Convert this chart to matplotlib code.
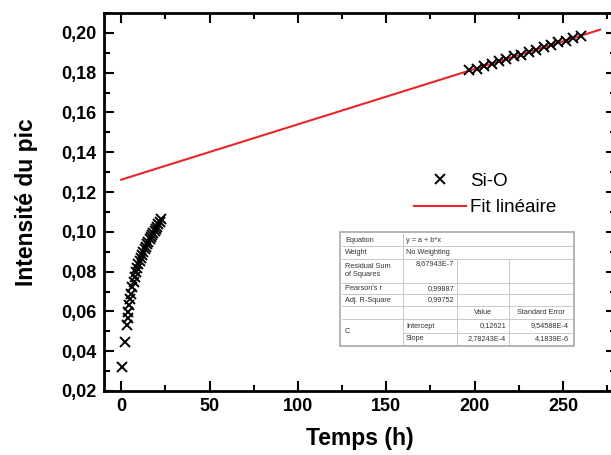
import matplotlib
matplotlib.use("Agg")
import matplotlib.pyplot as plt
import numpy as np
from matplotlib.ticker import MultipleLocator, FuncFormatter
from matplotlib.lines import Line2D
from matplotlib.patches import Rectangle

plt.rcParams['font.family'] = ['Liberation Sans', 'DejaVu Sans']

# ---- data ----
t_early = [0.6, 1.9, 3.4, 3.6, 4.0, 4.4, 5.0, 5.5, 6.2, 7.0, 7.7,
           8.4, 9.1, 9.8, 10.5, 11.2, 11.9, 12.6, 13.3, 14.0, 14.7, 15.4,
           16.1, 16.8, 17.5, 18.2, 18.9, 19.6, 20.3, 21.0, 21.7, 22.4]
i_early = [0.0322, 0.0448, 0.0532, 0.0565, 0.0598, 0.0632, 0.0661, 0.0690, 0.0721, 0.0749, 0.0774,
           0.0796, 0.0817, 0.0836, 0.0853, 0.0869, 0.0884, 0.0898, 0.0912, 0.0925, 0.0938, 0.0950,
           0.0962, 0.0973, 0.0984, 0.0995, 0.1005, 0.1015, 0.1025, 0.1037, 0.1050, 0.1065]
t_late = [197.0, 201.2, 205.4, 209.6, 213.8, 218.0, 222.2, 226.4,
          230.6, 234.8, 239.0, 243.2, 247.4, 251.6, 255.8, 260.0]
i_late = [0.1812, 0.1820, 0.1835, 0.1844, 0.1858, 0.1867, 0.1882, 0.1890,
          0.1905, 0.1914, 0.1928, 0.1937, 0.1952, 0.1961, 0.1975, 0.1984]
fit_intercept = 0.12621
fit_slope = 2.78243e-4
fit_range = [0, 271]

x_ticks = [0, 50, 100, 150, 200, 250]
y_ticks = [0.02, 0.04, 0.06, 0.08, 0.10, 0.12, 0.14, 0.16, 0.18, 0.20]

W, H = 611, 455
fig = plt.figure(figsize=(W/100, H/100), dpi=100)
# axes extends past the right edge (cropped reference)
ax = fig.add_axes([103.5/W, 64/H, (616-103.5)/W, (391-13)/H])

ax.plot(t_early + t_late, i_early + i_late, linestyle='none', marker='x',
        color='black', markersize=7.5, markeredgewidth=1.4, label='Si-O', zorder=3)
xf = np.array(fit_range, dtype=float)
ax.plot(xf, fit_intercept + fit_slope * xf, color='#e8262a', lw=1.5,
        label='Fit linéaire', zorder=2)

ax.set_xlim(-10, 280)
ax.set_ylim(0.02, 0.21)
ax.set_xticks(x_ticks)
ax.set_yticks(y_ticks)
ax.xaxis.set_minor_locator(MultipleLocator(25))
ax.yaxis.set_minor_locator(MultipleLocator(0.01))
ax.yaxis.set_major_formatter(FuncFormatter(lambda v, p: f"{v:.2f}".replace('.', ',')))
ax.tick_params(which='both', direction='in', top=True, right=True, width=1.5)
ax.tick_params(which='major', length=7, labelsize=13, pad=5)
ax.tick_params(which='minor', length=4)
for lab in ax.get_xticklabels() + ax.get_yticklabels():
    lab.set_fontweight('bold')
for s in ax.spines.values():
    s.set_linewidth(2)

ax.set_xlabel('Temps (h)', fontsize=16.5, fontweight='bold', labelpad=9)
ax.set_ylabel('Intensité du pic', fontsize=16.5, fontweight='bold', labelpad=17)

leg = ax.legend(loc='upper left', bbox_to_anchor=((406-103.5)/(616-103.5), 1 - (165-13)/378),
                frameon=False, fontsize=13.5, handlelength=2.8, handletextpad=0.2,
                labelspacing=0.52, borderaxespad=0)

# ---- fit results table (figure pixel layout) ----
def fx(px):
    return px / W
def fy(py):
    return 1 - py / H

x0, x1, x2, x3, x4 = 342, 403, 457, 509, 572
rows = [234, 246, 259, 283, 294, 306, 319, 333, 344]
gray = '#c8c8c8'
lw = 0.7
def hline(y, xa, xb, c=gray, w=lw):
    fig.add_artist(Line2D([fx(xa), fx(xb)], [fy(y), fy(y)], color=c, lw=w, transform=fig.transFigure, zorder=5))
def vline(x, ya, yb, c=gray, w=lw):
    fig.add_artist(Line2D([fx(x), fx(x)], [fy(ya), fy(yb)], color=c, lw=w, transform=fig.transFigure, zorder=5))

fig.add_artist(Rectangle((fx(x0 - 2), fy(rows[-1] + 2)), fx(x4 + 2) - fx(x0 - 2),
                         fy(rows[0] - 2) - fy(rows[-1] + 2), transform=fig.transFigure,
                         facecolor='white', edgecolor='#a8a8a8', lw=1.2, zorder=4))
for y in rows[1:7]:
    hline(y, x0, x4)
hline(rows[7], x1, x4)
vline(x1, rows[0], rows[-1])
vline(x2, rows[2], rows[-1])
vline(x3, rows[2], rows[-1])

fs = 5.3
tc = '#333333'
def tl(x, y, s, ha='left', va='center'):
    fig.text(fx(x), fy(y), s, ha=ha, va=va, fontsize=fs, color=tc, zorder=6)

def mid(a, b):
    return (rows[a] + rows[b]) / 2
tl(x0 + 3, mid(0, 1), 'Equation')
tl(x1 + 3, mid(0, 1), 'y = a + b*x')
tl(x0 + 3, mid(1, 2), 'Weight')
tl(x1 + 3, mid(1, 2), 'No Weighting')
tl(x0 + 3, mid(2, 3), 'Residual Sum\nof Squares')
tl(x2 - 3, rows[2] + 5, '8,67943E-7', ha='right')
tl(x0 + 3, mid(3, 4), "Pearson's r")
tl(x2 - 3, mid(3, 4), '0,99887', ha='right')
tl(x0 + 3, mid(4, 5), 'Adj. R-Square')
tl(x2 - 3, mid(4, 5), '0,99752', ha='right')
tl((x2 + x3) / 2, mid(5, 6), 'Value', ha='center')
tl((x3 + x4) / 2, mid(5, 6), 'Standard Error', ha='center')
tl(x0 + 3, mid(6, 8), 'C')
tl(x1 + 3, mid(6, 7), 'Intercept')
tl(x3 - 3, mid(6, 7), '0,12621', ha='right')
tl(x4 - 3, mid(6, 7), '9,54588E-4', ha='right')
tl(x1 + 3, mid(7, 8), 'Slope')
tl(x3 - 3, mid(7, 8), '2,78243E-4', ha='right')
tl(x4 - 3, mid(7, 8), '4,1839E-6', ha='right')

fig.savefig('out.png', dpi=100)
